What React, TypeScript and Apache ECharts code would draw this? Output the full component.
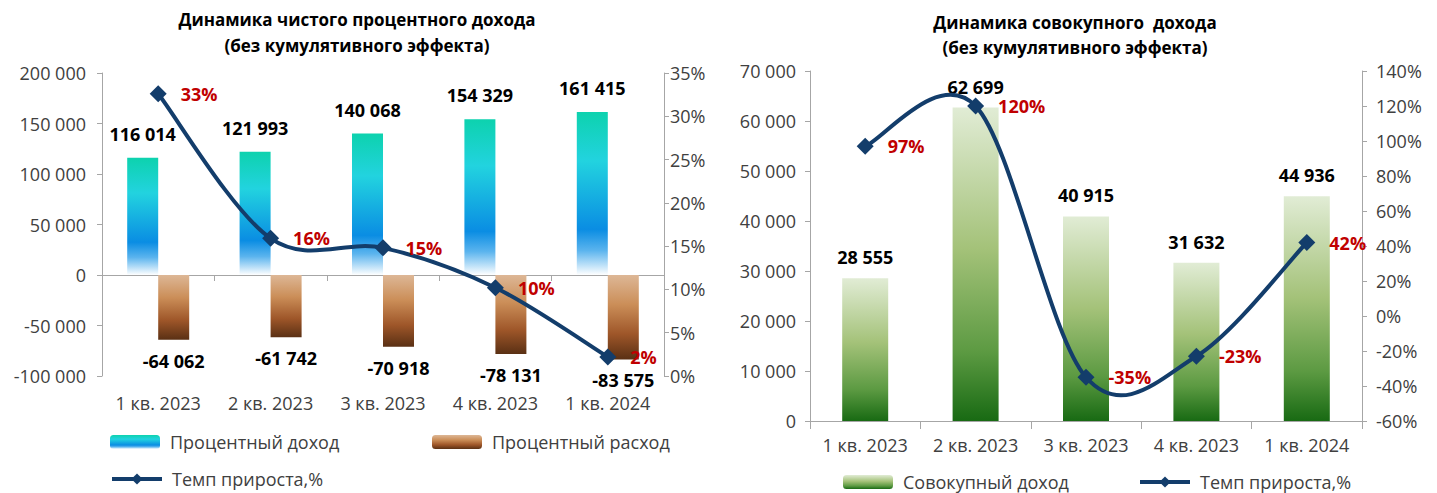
import React, { useEffect, useRef } from "react";
import * as echarts from "echarts";

const categories = ["1 кв. 2023", "2 кв. 2023", "3 кв. 2023", "4 кв. 2023", "1 кв. 2024"];
const interestIncome = [116014, 121993, 140068, 154329, 161415];
const interestExpense = [-64062, -61742, -70918, -78131, -83575];
const nimGrowth = [32.6, 15.9, 14.8, 10.2, 2.2];
const totalIncome = [28555, 62699, 40915, 31632, 44936];
const totalGrowth = [97, 120, -35, -23, 42];

const FONT = "'Open Sans', 'Noto Sans', sans-serif";
const AXIS_COLOR = "#A6A6A6";
const TEXT_COLOR = "#404040";
const LINE_COLOR = "#133D6B";
const RED = "#C00000";

const fmt = (v: number) => Math.round(v).toString().replace(/\B(?=(\d{3})+(?!\d))/g, " ");

const lg = (stops: [number, string][]) =>
  new echarts.graphic.LinearGradient(0, 0, 0, 1, stops.map(([offset, color]) => ({ offset, color })));

// Excel-like smoothed curve (Catmull-Rom, tension 1/6) through the series values
const smoothPath = (values: number[], api: any) => {
  const pts = values.map((v, i) => api.coord([i, v]));
  let d = `M${pts[0][0]},${pts[0][1]}`;
  for (let i = 0; i < pts.length - 1; i++) {
    const p0 = pts[i - 1] || pts[i];
    const p1 = pts[i];
    const p2 = pts[i + 1];
    const p3 = pts[i + 2] || pts[i + 1];
    const c1 = [p1[0] + (p2[0] - p0[0]) / 6, p1[1] + (p2[1] - p0[1]) / 6];
    const c2 = [p2[0] - (p3[0] - p1[0]) / 6, p2[1] - (p3[1] - p1[1]) / 6];
    d += ` C${c1[0]},${c1[1]} ${c2[0]},${c2[1]} ${p2[0]},${p2[1]}`;
  }
  return d;
};

export default function App() {
  const ref = useRef<HTMLDivElement>(null);
  useEffect(() => {
    if (!ref.current) return;
    const chart = echarts.init(ref.current, undefined, { renderer: "svg" });

    const incomeGrad = lg([
      [0, "#0DD2AE"],
      [0.3, "#22D3DF"],
      [0.72, "#0A8DE3"],
      [0.85, "#5BB4EE"],
      [1, "#FFFFFF"],
    ]);
    const expenseGrad = lg([
      [0, "#DDB796"],
      [0.35, "#CB8E58"],
      [0.7, "#9E5629"],
      [1, "#5A3014"],
    ]);
    const greenGrad = lg([
      [0, "#E1ECD5"],
      [0.45, "#A4C279"],
      [0.78, "#5C9A42"],
      [1, "#186A13"],
    ]);

    const axisLabel = { color: TEXT_COLOR, fontSize: 18, fontFamily: FONT };
    const axisLine = { show: true, lineStyle: { color: AXIS_COLOR, width: 1 } };
    const barLabel = { show: true, color: "#000", fontSize: 18, fontWeight: "bold" as const, fontFamily: FONT, formatter: (p: any) => fmt(p.value) };
    const pctLabel = { show: true, position: "right" as const, distance: 14, color: RED, fontSize: 18, fontWeight: "bold" as const, fontFamily: FONT, formatter: (p: any) => `${Math.round(p.value)}%` };
    const legendText = { color: TEXT_COLOR, fontSize: 18, fontFamily: FONT, lineHeight: 18, padding: [0, 0, 0, 5] };
    const legendBase = {
      itemWidth: 50,
      itemHeight: 14,
      padding: 0,
      textStyle: legendText,
      lineStyle: { color: LINE_COLOR, width: 4, opacity: 1 },
    };

    const curveSeries = (values: number[], xi: number, yi: number) => ({
      type: "custom",
      xAxisIndex: xi,
      yAxisIndex: yi,
      data: [[0, values[0]]],
      silent: true,
      z: 4,
      renderItem: (_params: any, api: any) => ({
        type: "path",
        shape: { pathData: smoothPath(values, api) },
        style: { fill: "none", stroke: LINE_COLOR, lineWidth: 4 },
      }),
    });

    chart.setOption({
      animation: false,
      textStyle: { fontFamily: FONT },
      graphic: [
        {
          type: "text",
          x: 357,
          y: 32,
          style: {
            text: "Динамика чистого процентного дохода\n(без кумулятивного эффекта)",
            textAlign: "center",
            textVerticalAlign: "middle",
            font: `bold 17px ${FONT}`,
            lineHeight: 26,
            fill: "#000",
          },
        },
        {
          type: "text",
          x: 1075,
          y: 35,
          style: {
            text: "Динамика совокупного  дохода\n(без кумулятивного эффекта)",
            textAlign: "center",
            textVerticalAlign: "middle",
            font: `bold 17px ${FONT}`,
            lineHeight: 25,
            fill: "#000",
          },
        },
      ],
      grid: [
        { left: 102, right: 1437 - 664, top: 73, height: 303 },
        { left: 810, right: 1437 - 1362, top: 71, height: 350 },
      ],
      legend: [
        { ...legendBase, left: 110, top: 433, data: ["Процентный доход"] },
        { ...legendBase, left: 432, top: 433, data: ["Процентный расход"] },
        { ...legendBase, left: 110, top: 470, data: ["Темп прироста,%"] },
        { ...legendBase, left: 843, top: 473, data: ["Совокупный доход"] },
        { ...legendBase, left: 1138, top: 473, data: ["Темп прироста,% "] },
      ],
      xAxis: [
        {
          type: "category",
          gridIndex: 0,
          position: "bottom",
          data: categories,
          axisLine: { show: false, onZero: false },
          axisTick: { show: false },
          axisLabel: { ...axisLabel, margin: 18, interval: 0 },
        },
        {
          type: "category",
          gridIndex: 0,
          position: "bottom",
          data: categories,
          axisLine: { show: true, onZero: true, onZeroAxisIndex: 0, lineStyle: { color: AXIS_COLOR } },
          axisTick: { show: true, length: 6, lineStyle: { color: AXIS_COLOR } },
          axisLabel: { show: false },
        },
        {
          type: "category",
          gridIndex: 1,
          position: "bottom",
          data: categories,
          axisLine,
          axisTick: { show: true, length: 8, lineStyle: { color: AXIS_COLOR } },
          axisLabel: { ...axisLabel, margin: 15, interval: 0 },
        },
      ],
      yAxis: [
        {
          type: "value",
          gridIndex: 0,
          position: "left",
          min: -100000,
          max: 200000,
          interval: 50000,
          axisLine,
          axisTick: { show: true, length: 5, lineStyle: { color: AXIS_COLOR } },
          splitLine: { show: false },
          axisLabel: { ...axisLabel, margin: 16, formatter: (v: number) => fmt(v) },
        },
        {
          type: "value",
          gridIndex: 0,
          position: "right",
          min: 0,
          max: 35,
          interval: 5,
          axisLine,
          axisTick: { show: true, length: 5, lineStyle: { color: AXIS_COLOR } },
          splitLine: { show: false },
          axisLabel: { ...axisLabel, margin: 6, formatter: (v: number) => `${v}%` },
        },
        {
          type: "value",
          gridIndex: 1,
          position: "left",
          min: 0,
          max: 70000,
          interval: 10000,
          axisLine,
          axisTick: { show: true, length: 5, lineStyle: { color: AXIS_COLOR } },
          splitLine: { show: false },
          axisLabel: { ...axisLabel, margin: 14, formatter: (v: number) => fmt(v) },
        },
        {
          type: "value",
          gridIndex: 1,
          position: "right",
          min: -60,
          max: 140,
          interval: 20,
          axisLine,
          axisTick: { show: true, length: 5, lineStyle: { color: AXIS_COLOR } },
          splitLine: { show: false },
          axisLabel: { ...axisLabel, margin: 14, formatter: (v: number) => `${v}%` },
        },
      ],
      series: [
        {
          name: "Процентный доход",
          type: "bar",
          xAxisIndex: 0,
          yAxisIndex: 0,
          data: interestIncome,
          barWidth: 31,
          barGap: "0%",
          itemStyle: { color: incomeGrad },
          label: { ...barLabel, position: "top", distance: 15 },
        },
        {
          name: "Процентный расход",
          type: "bar",
          xAxisIndex: 0,
          yAxisIndex: 0,
          data: interestExpense,
          barWidth: 31,
          barGap: "0%",
          itemStyle: { color: expenseGrad },
          label: { ...barLabel, position: "bottom", distance: 12 },
        },
        curveSeries(nimGrowth, 0, 1),
        {
          name: "Темп прироста,%",
          type: "line",
          xAxisIndex: 0,
          yAxisIndex: 1,
          data: nimGrowth,
          symbol: "diamond",
          symbolSize: 17,
          itemStyle: { color: LINE_COLOR },
          lineStyle: { color: LINE_COLOR, width: 4, opacity: 0 },
          label: pctLabel,
          z: 5,
        },
        {
          name: "Совокупный доход",
          type: "bar",
          xAxisIndex: 2,
          yAxisIndex: 2,
          data: totalIncome,
          barWidth: 46,
          itemStyle: { color: greenGrad },
          label: { ...barLabel, position: "top", distance: 12 },
        },
        curveSeries(totalGrowth, 2, 3),
        {
          name: "Темп прироста,% ",
          type: "line",
          xAxisIndex: 2,
          yAxisIndex: 3,
          data: totalGrowth,
          symbol: "diamond",
          symbolSize: 17,
          itemStyle: { color: LINE_COLOR },
          lineStyle: { color: LINE_COLOR, width: 4, opacity: 0 },
          label: pctLabel,
          z: 5,
        },
      ],
    });
    return () => chart.dispose();
  }, []);

  return (
    <div
      ref={ref}
      style={{ position: "fixed", left: 0, top: 0, width: 1437, height: 493, background: "#fff" }}
    />
  );
}
